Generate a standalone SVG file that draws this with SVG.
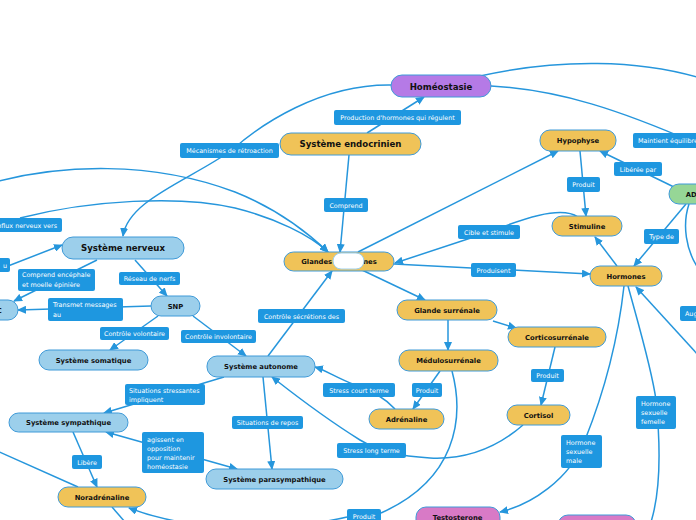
<svg xmlns="http://www.w3.org/2000/svg" width="696" height="520" viewBox="0 0 696 520">
<style>
.c{fill:none;stroke:#2696dc;stroke-width:1.5}
.n{stroke:#3f9ad8;stroke-width:1}
.y{fill:#f0c358}.b{fill:#9ccfeb}.p{fill:#b57ae6}.g{fill:#96d696}.k{fill:#d87ac6}
.t{font-family:"DejaVu Sans",Verdana,sans-serif;font-weight:bold;font-size:6.8px;fill:#111;text-anchor:middle}
.big{font-size:8.6px}
.l rect{fill:#1e97e0}
.l text{font-family:"DejaVu Sans",Verdana,sans-serif;font-size:6.4px;fill:#fff;text-anchor:middle}
.l text.s{text-anchor:start}
</style>
<defs>
<marker id="a" markerUnits="userSpaceOnUse" markerWidth="9" markerHeight="8" refX="8" refY="4" orient="auto-start-reverse"><path d="M0,0 L9,4 L0,8 Z" fill="#2696dc"/></marker>
</defs>
<rect width="696" height="520" fill="#fff"/>
<g id="connectors">
<path class="c" d="M367,133 L424,97" marker-end="url(#a)"/>
<path class="c" d="M391,85 C320,84 260,125 232,150 C190,180 128,200 123,236" marker-end="url(#a)"/>
<path class="c" d="M480,76 C560,58 640,60 700,78"/>
<path class="c" d="M491,86 C560,90 620,110 700,145"/>
<path class="c" d="M349,155 L340,252" marker-end="url(#a)"/>
<path class="c" d="M358,252 L558,151" marker-end="url(#a)"/>
<path class="c" d="M578,217 C560,205 520,220 489,232 C450,245 420,255 395,263" marker-end="url(#a)"/>
<path class="c" d="M394,264 L590,274" marker-end="url(#a)"/>
<path class="c" d="M580,151 L586,216" marker-end="url(#a)"/>
<path class="c" d="M617,266 L595,237" marker-end="url(#a)"/>
<path class="c" d="M686,204 L634,266" marker-end="url(#a)"/>
<path class="c" d="M676,188 L600,151" marker-end="url(#a)"/>
<path class="c" d="M689,204 C682,225 686,250 698,268"/>
<path class="c" d="M700,357 L636,287" marker-end="url(#a)"/>
<path class="c" d="M624,286 C618,340 605,390 585,440 C570,480 530,505 500,512" marker-end="url(#a)"/>
<path class="c" d="M628,286 C640,330 652,370 656,400 C660,440 662,490 650,525"/>
<path class="c" d="M362,270 L425,300" marker-end="url(#a)"/>
<path class="c" d="M448,320 L448,350" marker-end="url(#a)"/>
<path class="c" d="M493,321 L516,328" marker-end="url(#a)"/>
<path class="c" d="M555,347 L541,405" marker-end="url(#a)"/>
<path class="c" d="M440,371 L413,409" marker-end="url(#a)"/>
<path class="c" d="M452,371 C465,420 455,480 381,513"/>
<path class="c" d="M347,517 C290,530 200,535 129,508" marker-end="url(#a)"/>
<path class="c" d="M395,409 C385,398 370,390 355,385 C335,377 325,370 315,367" marker-end="url(#a)"/>
<path class="c" d="M523,425 C500,445 470,460 430,458 C400,456 380,452 360,440 C320,415 295,395 272,377" marker-end="url(#a)"/>
<path class="c" d="M193,316 L246,356" marker-end="url(#a)"/>
<path class="c" d="M158,316 L110,350" marker-end="url(#a)"/>
<path class="c" d="M151,306 L18,310" marker-end="url(#a)"/>
<path class="c" d="M135,260 L167,296" marker-end="url(#a)"/>
<path class="c" d="M97,260 L14,301" marker-end="url(#a)"/>
<path class="c" d="M8,266 L62,245" marker-end="url(#a)"/>
<path class="c" d="M20,218 C90,200 180,195 235,208 C275,218 310,235 328,252" marker-end="url(#a)"/>
<path class="c" d="M-5,182 C60,165 150,160 235,192 C275,208 305,230 328,252" marker-end="url(#a)"/>
<path class="c" d="M268,356 L332,271" marker-end="url(#a)"/>
<path class="c" d="M224,377 L104,413" marker-end="url(#a)"/>
<path class="c" d="M263,377 L272,469" marker-end="url(#a)"/>
<path class="c" d="M106,432 L237,469" marker-start="url(#a)" marker-end="url(#a)"/>
<path class="c" d="M73,432 L97,487" marker-end="url(#a)"/>
<path class="c" d="M-5,450 L78,487"/>
<path class="c" d="M112,507 L125,522"/>
</g>
<g id="labels" class="l">
<g><rect x="180" y="143" width="99" height="15" rx="2"/><text x="229.5" y="153">Mécanismes de rétroaction</text></g>
<g><rect x="334" y="110" width="127" height="15" rx="2"/><text x="397.5" y="120">Production d'hormones qui régulent</text></g>
<g><rect x="324" y="198" width="44" height="14" rx="2"/><text x="346" y="207.5">Comprend</text></g>
<g><rect x="458" y="225" width="62" height="14" rx="2"/><text x="489" y="234.5">Cible et stimule</text></g>
<g><rect x="471" y="263" width="45" height="14" rx="2"/><text x="493.5" y="272.5">Produisent</text></g>
<g><rect x="567" y="177" width="33" height="15" rx="2"/><text x="583.5" y="187">Produit</text></g>
<g><rect x="633" y="133" width="75" height="15" rx="2"/><text class="s" x="638" y="143">Maintient équilibre</text></g>
<g><rect x="614" y="162" width="48" height="14" rx="2"/><text x="638" y="171.5">Libérée par</text></g>
<g><rect x="644" y="229" width="35" height="15" rx="2"/><text x="661.5" y="239">Type de</text></g>
<g><rect x="680" y="306" width="30" height="15" rx="2"/><text class="s" x="685" y="316">Aug</text></g>
<g><rect x="-5" y="218" width="67" height="14" rx="2"/><text x="57" y="227.5" style="text-anchor:end">Influx nerveux vers</text></g>
<g><rect x="-10" y="258" width="20" height="14" rx="2"/><text x="7" y="267.5" style="text-anchor:end">u</text></g>
<g><rect x="18" y="269" width="77" height="22" rx="2"/><text class="s" x="22" y="277">Comprend encéphale</text><text class="s" x="22" y="287">et moelle épinière</text></g>
<g><rect x="119" y="272" width="61" height="13" rx="2"/><text x="149.5" y="281">Réseau de nerfs</text></g>
<g><rect x="48" y="298" width="75" height="23" rx="2"/><text class="s" x="53" y="307">Transmet messages</text><text class="s" x="53" y="317">au</text></g>
<g><rect x="100" y="327" width="69" height="13" rx="2"/><text x="134.5" y="336">Contrôle volontaire</text></g>
<g><rect x="181" y="330" width="75" height="13" rx="2"/><text x="218.5" y="339">Contrôle involontaire</text></g>
<g><rect x="258" y="309" width="87" height="14" rx="2"/><text x="301.5" y="318.5">Contrôle sécrétions des</text></g>
<g><rect x="125" y="384" width="80" height="21" rx="2"/><text class="s" x="129" y="392.5">Situations stressantes</text><text class="s" x="129" y="401.5">impliquent</text></g>
<g><rect x="232" y="416" width="71" height="13" rx="2"/><text x="267.5" y="425">Situations de repos</text></g>
<g><rect x="142" y="432" width="62" height="41" rx="2"/><text class="s" x="147" y="441.5">agissent en</text><text class="s" x="147" y="450.5">opposition</text><text class="s" x="147" y="459.5">pour maintenir</text><text class="s" x="147" y="468.5">homéostasie</text></g>
<g><rect x="72" y="455" width="30" height="14" rx="2"/><text x="87" y="464.5">Libère</text></g>
<g><rect x="323" y="383" width="72" height="14" rx="2"/><text x="359" y="392.5">Stress court terme</text></g>
<g><rect x="412" y="383" width="30" height="14" rx="2"/><text x="427" y="392.5">Produit</text></g>
<g><rect x="337" y="443" width="69" height="15" rx="2"/><text x="371.5" y="453">Stress long terme</text></g>
<g><rect x="531" y="369" width="33" height="13" rx="2"/><text x="547.5" y="378">Produit</text></g>
<g><rect x="561" y="435" width="41" height="33" rx="2"/><text class="s" x="566" y="444.5">Hormone</text><text class="s" x="566" y="453.5">sexuelle</text><text class="s" x="566" y="462.5">male</text></g>
<g><rect x="636" y="396" width="40" height="33" rx="2"/><text class="s" x="641" y="406">Hormone</text><text class="s" x="641" y="415">sexuelle</text><text class="s" x="641" y="424">femelle</text></g>
<g><rect x="347" y="509" width="34" height="15" rx="2"/><text x="364" y="519">Produit</text></g>
</g>
<g id="homeostasie"><rect class="n p" x="391" y="75" width="100" height="22" rx="11"/><text class="t big" x="441" y="89.5">Homéostasie</text></g>
<g id="systeme-endocrinien"><rect class="n y" x="280" y="133" width="141" height="22" rx="11"/><text class="t big" x="350.5" y="147">Système endocrinien</text></g>
<g id="glandes-endocrines"><rect class="n y" x="284" y="252" width="110" height="19" rx="9.5"/><text class="t" x="339" y="264">Glandes endocrines</text><rect x="333" y="253" width="31" height="16" rx="8" fill="#fff" stroke="#9ccfeb" stroke-width="1"/></g>
<g id="hypophyse"><rect class="n y" x="540" y="130" width="76" height="21" rx="10"/><text class="t" x="578" y="143">Hypophyse</text></g>
<g id="stimuline"><rect class="n y" x="552" y="216" width="70" height="20" rx="10"/><text class="t" x="587" y="228.5">Stimuline</text></g>
<g id="hormones"><rect class="n y" x="590" y="266" width="72" height="20" rx="10"/><text class="t" x="626" y="278.5">Hormones</text></g>
<g id="adh"><rect class="n g" x="669" y="184" width="70" height="20" rx="10"/><text class="t" x="694" y="196.5">ADH</text></g>
<g id="glande-surrenale"><rect class="n y" x="397" y="300" width="100" height="20" rx="10"/><text class="t" x="447" y="312.5">Glande surrénale</text></g>
<g id="medulosurrenale"><rect class="n y" x="399" y="350" width="99" height="21" rx="10"/><text class="t" x="448.5" y="363">Médulosurrénale</text></g>
<g id="corticosurrenale"><rect class="n y" x="508" y="327" width="98" height="20" rx="10"/><text class="t" x="557" y="339.5">Corticosurrénale</text></g>
<g id="cortisol"><rect class="n y" x="507" y="405" width="63" height="20" rx="10"/><text class="t" x="538.5" y="417.5">Cortisol</text></g>
<g id="adrenaline"><rect class="n y" x="369" y="409" width="75" height="20" rx="10"/><text class="t" x="406.5" y="421.5">Adrénaline</text></g>
<g id="testosterone"><rect class="n k" x="416" y="507" width="84" height="30" rx="10"/><text class="t" x="457.5" y="519.5">Testosterone</text></g>
<g id="hormone-femelle"><rect class="n k" x="558" y="515" width="78" height="20" rx="10"/></g>
<g id="systeme-nerveux"><rect class="n b" x="62" y="237" width="122" height="22" rx="11"/><text class="t big" x="123" y="251">Système nerveux</text></g>
<g id="snp"><rect class="n b" x="151" y="296" width="49" height="20" rx="10"/><text class="t" x="175.5" y="308.5">SNP</text></g>
<g id="snc"><rect class="n b" x="-30" y="300" width="48" height="20" rx="10"/><text class="t" x="-6" y="312.5">SNC</text></g>
<g id="systeme-somatique"><rect class="n b" x="39" y="350" width="109" height="20" rx="10"/><text class="t" x="93.5" y="362.5">Système somatique</text></g>
<g id="systeme-autonome"><rect class="n b" x="207" y="356" width="108" height="21" rx="10"/><text class="t" x="261" y="369">Système autonome</text></g>
<g id="systeme-sympathique"><rect class="n b" x="9" y="413" width="119" height="19" rx="9.5"/><text class="t" x="68.5" y="425">Système sympathique</text></g>
<g id="systeme-parasympathique"><rect class="n b" x="206" y="469" width="137" height="20" rx="10"/><text class="t" x="274.5" y="481.5">Système parasympathique</text></g>
<g id="noradrenaline"><rect class="n y" x="58" y="487" width="88" height="20" rx="10"/><text class="t" x="102" y="499.5">Noradrénaline</text></g>
</svg>
